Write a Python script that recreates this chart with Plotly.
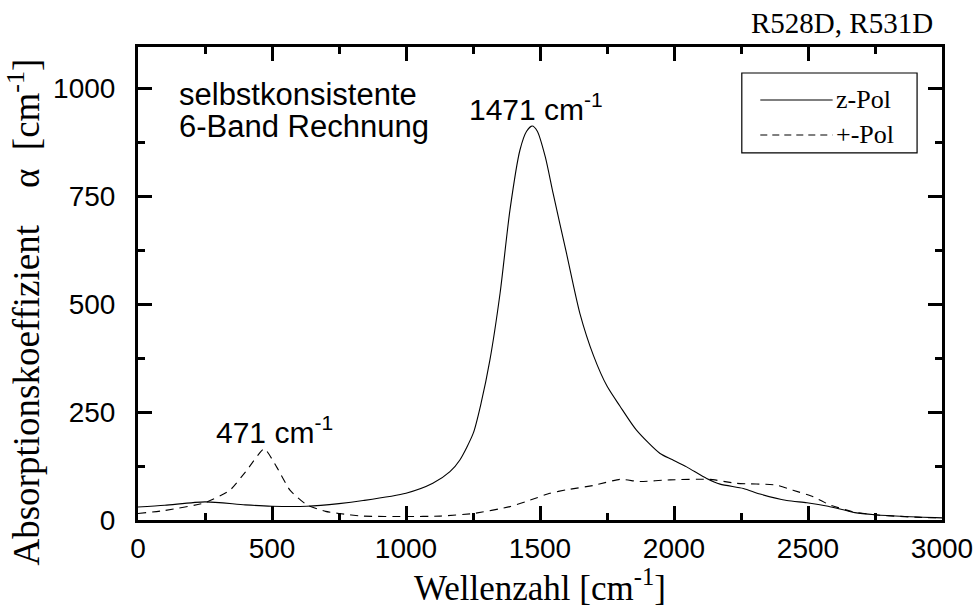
import plotly.graph_objects as go

# ---- data ----
z_x = [0, 100, 250, 400, 500, 630, 750, 840, 1000, 1100, 1164, 1201, 1251, 1280, 1313, 1351, 1388,
       1425, 1450, 1471, 1490, 1520, 1549, 1599, 1649, 1700, 1750, 1798, 1860, 1948, 1993, 2047,
       2122, 2172, 2259, 2321, 2421, 2496, 2575, 2675, 2750, 2862, 3000]
z_y = [30, 34, 42, 35, 32, 32, 38, 45, 62, 85, 112, 139, 201, 270, 370, 525, 718,
       856, 900, 912, 900, 840, 756, 617, 478, 380, 310, 264, 208, 154, 140, 123,
       96, 83, 73, 60, 45, 40, 32, 17, 12, 8, 5]

p_x = [0, 100, 250, 343, 407, 471, 517, 567, 630, 700, 750, 840, 1000, 1127, 1251, 1388, 1463,
       1537, 1600, 1700, 1798, 1873, 1985, 2134, 2233, 2382, 2444, 2519, 2581, 2668, 2750, 2916, 3000]
p_y = [15, 22, 40, 69, 116, 165, 123, 69, 35, 20, 15, 9, 8, 9, 15, 31, 46,
       62, 70, 80, 94, 89, 93, 94, 85, 81, 69, 54, 35, 19, 12, 6, 5]

series_names = ["z-Pol", "+-Pol"]
peak_labels = ["1471 cm<sup>-1</sup>", "471 cm<sup>-1</sup>"]
peak_pos_x = [1485, 511]
peak_pos_y = [957, 208]
note_lines = ["selbstkonsistente", "6-Band Rechnung"]
x_title = "Wellenzahl [cm<sup>-1</sup>]"
y_title = "Absorptionskoeffizient    α  [cm<sup>-1</sup>]"

SANS = "Liberation Sans, Arial, sans-serif"
SERIF = "Liberation Serif, Times New Roman, serif"

fig = go.Figure()
fig.add_trace(go.Scatter(x=z_x, y=z_y, mode="lines", name=series_names[0],
                         line=dict(color="black", width=1.1, shape="spline", smoothing=0.7),
                         showlegend=False))
fig.add_trace(go.Scatter(x=p_x, y=p_y, mode="lines", name=series_names[1],
                         line=dict(color="black", width=1.1, dash="8px,6px", shape="spline", smoothing=0.5),
                         showlegend=False))

axis_common = dict(
    showline=True, linecolor="black", linewidth=3, mirror="allticks",
    ticks="inside", ticklen=14, tickwidth=2.5, tickcolor="black",
    showgrid=False, zeroline=False, automargin=False, ticklabeloverflow="allow",
    tickfont=dict(family=SANS, size=28, color="black"),
)

fig.update_xaxes(range=[0, 3000], dtick=500, tick0=0,
                 minor=dict(ticks="inside", ticklen=7, tickwidth=2.5, tickcolor="black", dtick=250),
                 ticklabelstandoff=1,
                 **axis_common)
fig.update_yaxes(range=[0, 1095], dtick=250, tick0=0,
                 minor=dict(ticks="inside", ticklen=7, tickwidth=2.5, tickcolor="black", dtick=125),
                 ticklabelstandoff=14,
                 **axis_common)

annotations = []
annotations.append(dict(x=0.5, y=-0.139, xref="paper", yref="paper", text=x_title,
                        xanchor="center", yanchor="middle", showarrow=False,
                        font=dict(family=SERIF, size=35, color="black")))
annotations.append(dict(x=-0.141, y=0.44, xref="paper", yref="paper", text=y_title, textangle=-90,
                        xanchor="center", yanchor="middle", showarrow=False,
                        font=dict(family=SERIF, size=37, color="black")))
for i, t in enumerate(peak_labels):
    annotations.append(dict(x=peak_pos_x[i], y=peak_pos_y[i], xref="x", yref="y", text=t,
                            showarrow=False, font=dict(family=SANS, size=30, color="black")))
for i, t in enumerate(note_lines):
    annotations.append(dict(x=145, y=[984, 910][i], xref="x", yref="y", text=t, xanchor="left",
                            showarrow=False, font=dict(family=SANS, size=31, color="black")))
annotations.append(dict(x=0.991, y=1.051, xref="paper", yref="paper", text="R528D, R531D",
                        xanchor="right", yanchor="middle", showarrow=False,
                        font=dict(family=SERIF, size=29, color="black")))
# manual legend
leg_y = [0.888, 0.814]
shapes = [dict(type="rect", xref="paper", yref="paper", x0=0.751, x1=0.969, y0=0.776, y1=0.945,
               line=dict(color="black", width=1.2), fillcolor="white", layer="above")]
for i, nm in enumerate(series_names):
    shapes.append(dict(type="line", xref="paper", yref="paper", x0=0.774, x1=0.864,
                       y0=leg_y[i], y1=leg_y[i],
                       line=dict(color="black", width=1.1, dash=["solid", "7px,5px"][i])))
    annotations.append(dict(x=0.866, y=leg_y[i], xref="paper", yref="paper", text=nm,
                            xanchor="left", yanchor="middle", showarrow=False,
                            font=dict(family=SERIF, size=26, color="black")))

fig.update_layout(
    width=974, height=608,
    margin=dict(l=138, r=32, t=47, b=88),
    paper_bgcolor="white", plot_bgcolor="white",
    annotations=annotations, shapes=shapes,
)

fig.write_html("out.html")
